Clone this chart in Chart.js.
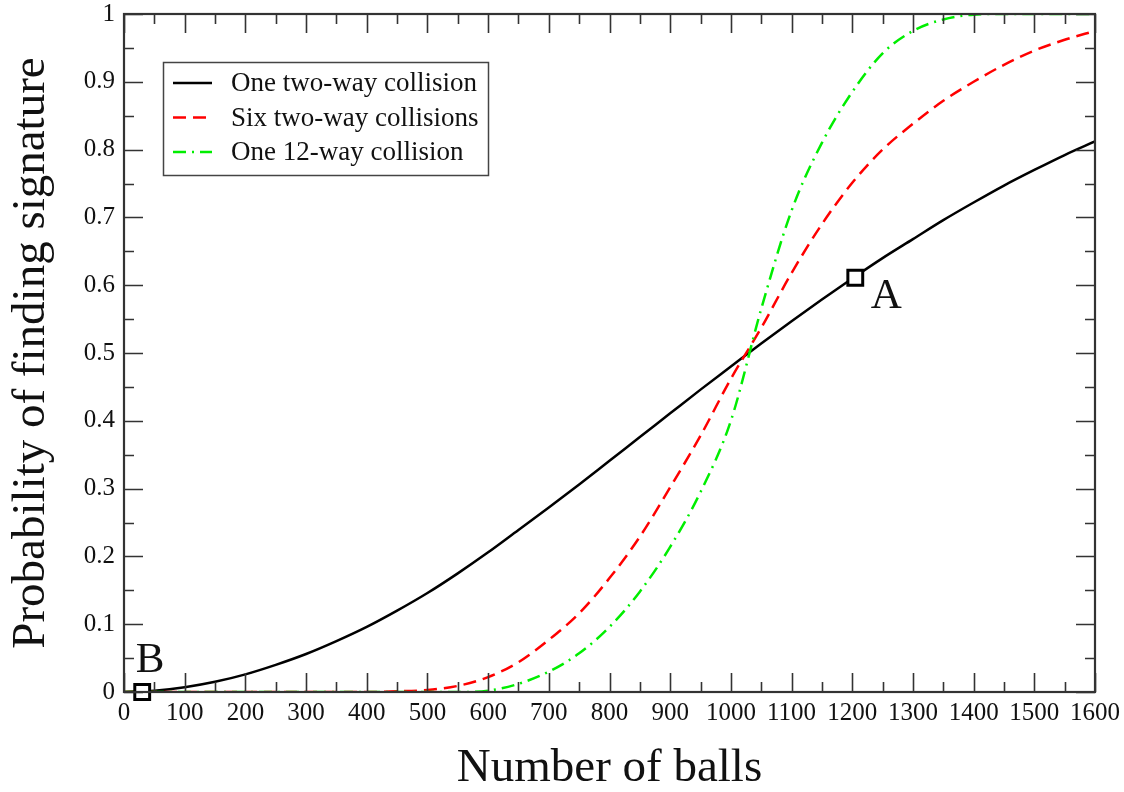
<!DOCTYPE html>
<html>
<head>
<meta charset="utf-8">
<title>Probability of finding signature</title>
<script src="https://cdn.jsdelivr.net/npm/chart.js@4.4.0/dist/chart.umd.min.js"></script>
<style>
  html, body { margin: 0; padding: 0; background: #fff; }
</style>
</head>
<body>
<canvas id="chart" width="1124" height="792"></canvas>
<script>
// number of balls (x), read every 50
const balls = [0, 50, 100, 150, 200, 250, 300, 350, 400, 450, 500, 550, 600, 650, 700, 750, 800,
               850, 900, 950, 1000, 1050, 1100, 1150, 1200, 1250, 1300, 1350, 1400, 1450, 1500, 1550, 1600];

// probability curves
const oneTwoWay = [0, 0.002, 0.007, 0.015, 0.026, 0.04, 0.056, 0.075, 0.096, 0.12, 0.146, 0.175, 0.206,
                   0.239, 0.272, 0.306, 0.341, 0.376, 0.411, 0.446, 0.48, 0.514, 0.547, 0.579, 0.61, 0.64,
                   0.668, 0.696, 0.722, 0.747, 0.77, 0.792, 0.812];
const sixTwoWay = [0, 0, 0, 0, 0, 0, 0, 0, 0, 0.001, 0.003, 0.009, 0.022, 0.044, 0.077, 0.116, 0.168,
                   0.229, 0.302, 0.378, 0.462, 0.537, 0.618, 0.69, 0.751, 0.8, 0.838, 0.872, 0.9, 0.925,
                   0.946, 0.962, 0.975];
const oneTwelveWay = [0, 0, 0, 0, 0, 0, 0, 0, 0, 0, 0, 0, 0.002, 0.012, 0.03, 0.057, 0.096,
                      0.148, 0.214, 0.295, 0.4, 0.565, 0.71, 0.81, 0.885, 0.942, 0.975, 0.992, 0.999, 1,
                      1, 1, 1];

const seriesNames = ['One two-way collision', 'Six two-way collisions', 'One 12-way collision'];

// the two marked points
const markLabels = ['A', 'B'];
const markX = [1205, 30];
const markY = [0.611, 0];

const serif = '"Liberation Serif", "Times New Roman", serif';

const toPoints = ys => balls.map((b, i) => ({ x: b, y: ys[i] }));

// inward gnuplot style ticks on all four sides + the frame
const frameTicks = {
  id: 'frameTicks',
  afterDatasetsDraw(chart) {
    const { ctx, chartArea: a, scales: { x, y } } = chart;
    ctx.save();
    ctx.strokeStyle = '#333';
    ctx.lineWidth = 1.6;
    ctx.beginPath();
    for (let v = 0; v <= 1600; v += 50) {
      const px = Math.round(x.getPixelForValue(v)) + 0.5;
      const len = v % 100 === 0 ? 19 : 10;
      ctx.moveTo(px, a.bottom); ctx.lineTo(px, a.bottom - len);
      ctx.moveTo(px, a.top); ctx.lineTo(px, a.top + len);
    }
    for (let i = 0; i <= 20; i++) {
      const py = Math.round(y.getPixelForValue(i / 20)) + 0.5;
      const len = i % 2 === 0 ? 19 : 10;
      ctx.moveTo(a.left, py); ctx.lineTo(a.left + len, py);
      ctx.moveTo(a.right, py); ctx.lineTo(a.right - len, py);
    }
    ctx.stroke();
    ctx.lineWidth = 2.2;
    ctx.strokeRect(a.left, a.top, a.right - a.left, a.bottom - a.top);
    ctx.restore();
  }
};

// legend box in the upper left + the A / B labels
const boxLegend = {
  id: 'boxLegend',
  afterDraw(chart) {
    const { ctx, scales: { x, y } } = chart;
    ctx.save();
    ctx.fillStyle = '#fff';
    ctx.fillRect(163, 62, 325, 113);
    ctx.strokeStyle = '#444';
    ctx.lineWidth = 1.5;
    ctx.strokeRect(163.5, 62.5, 325, 113);
    chart.data.datasets.slice(0, 3).forEach((ds, i) => {
      const ry = 83 + i * 34.5;
      ctx.strokeStyle = ds.borderColor;
      ctx.lineWidth = ds.borderWidth;
      ctx.setLineDash(ds.borderDash || []);
      ctx.beginPath();
      ctx.moveTo(173, ry); ctx.lineTo(212, ry);
      ctx.stroke();
      ctx.setLineDash([]);
      ctx.fillStyle = '#111';
      ctx.font = '27px ' + serif;
      ctx.textAlign = 'left';
      ctx.textBaseline = 'middle';
      ctx.fillText(ds.label, 231, ry + 1);
    });

    const offs = [[31, 19], [8, -31]];
    ctx.font = '43px ' + serif;
    ctx.textAlign = 'center';
    ctx.textBaseline = 'middle';
    ctx.fillStyle = '#111';
    markLabels.forEach((t, i) => {
      ctx.fillText(t, x.getPixelForValue(markX[i]) + offs[i][0], y.getPixelForValue(markY[i]) + offs[i][1]);
    });
    ctx.restore();
  }
};

new Chart(document.getElementById('chart'), {
  type: 'line',
  data: {
    datasets: [
      { label: seriesNames[0], data: toPoints(oneTwoWay), borderColor: '#000', borderWidth: 2.5, order: 3 },
      { label: seriesNames[1], data: toPoints(sixTwoWay), borderColor: '#ff0000', borderWidth: 2.5,
        borderDash: [13, 7], order: 2 },
      { label: seriesNames[2], data: toPoints(oneTwelveWay), borderColor: '#00ee00', borderWidth: 2.5,
        borderDash: [13, 6, 2, 6], order: 1 },
      { label: 'marks', data: markX.map((v, i) => ({ x: v, y: markY[i] })), showLine: false,
        pointStyle: 'rect', pointRadius: 10.5, pointBorderWidth: 3, pointBorderColor: '#000',
        pointBackgroundColor: '#fff', order: 0, clip: false }
    ]
  },
  options: {
    responsive: false,
    animation: false,
    events: [],
    layout: { padding: { left: 0, right: 29, top: 14, bottom: 0 } },
    elements: {
      line: { cubicInterpolationMode: 'monotone', fill: false },
      point: { radius: 0 }
    },
    plugins: { legend: { display: false }, tooltip: { enabled: false } },
    scales: {
      x: {
        type: 'linear', min: 0, max: 1600,
        grid: { display: false, drawTicks: false },
        border: { display: false },
        ticks: { stepSize: 100, padding: 6, color: '#111', font: { family: serif, size: 25 },
                 maxRotation: 0, autoSkip: false, callback: v => String(v) },
        title: { display: true, text: 'Number of balls', color: '#111',
                 font: { family: serif, size: 47, lineHeight: 1 }, padding: 0 },
        afterFit(s) { s.height = 100; s.paddingLeft = 0; s.paddingRight = 0; }
      },
      y: {
        type: 'linear', min: 0, max: 1,
        grid: { display: false, drawTicks: false },
        border: { display: false },
        ticks: { stepSize: 0.1, padding: 9, color: '#111', font: { family: serif, size: 25 },
                 callback: v => String(Math.round(v * 10) / 10) },
        title: { display: true, text: 'Probability of finding signature', color: '#111',
                 font: { family: serif, size: 47, lineHeight: 1 }, padding: { top: 8, bottom: 0 } },
        afterFit(s) { s.width = 124; s.paddingTop = 0; s.paddingBottom = 0; }
      }
    }
  },
  plugins: [frameTicks, boxLegend]
});
</script>
</body>
</html>
